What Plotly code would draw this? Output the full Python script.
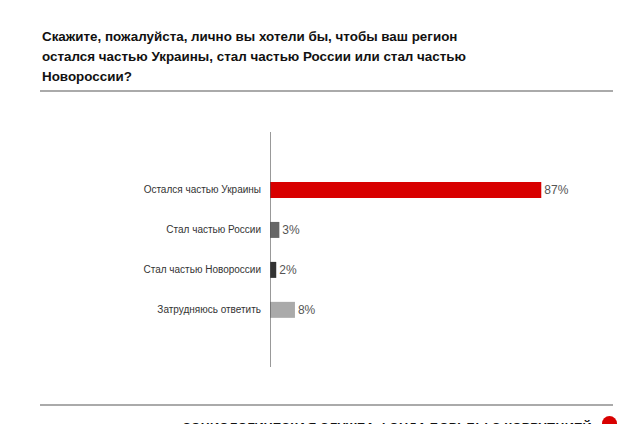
import plotly.graph_objects as go

categories = ["Остался частью Украины", "Стал частью России", "Стал частью Новороссии", "Затрудняюсь ответить"]
values = [87, 3, 2, 8]
labels = ["87%", "3%", "2%", "8%"]
colors = ["#d80000", "#666666", "#333333", "#aaaaaa"]

title_lines = ["Скажите, пожалуйста, лично вы хотели бы, чтобы ваш регион",
               "остался частью Украины, стал частью России или стал частью",
               "Новороссии?"]
footer_text = "СОЦИОЛОГИЧЕСКАЯ СЛУЖБА ФОНДА БОРЬБЫ С КОРРУПЦИЕЙ"

W, H = 636, 424
L, R, T, B = 270, 613, 132, 367

def px(x):
    return (x - L) / (R - L)

def py(y):
    return (B - y) / (B - T)

fig = go.Figure(go.Bar(
    x=values, y=categories, orientation="h",
    marker=dict(color=colors, line=dict(width=0)),
    text=labels, textposition="outside", cliponaxis=False,
    textfont=dict(family="Liberation Sans, Arial, sans-serif", size=12, color="#555555"),
    width=0.4, hoverinfo="skip",
))

title_annotations = [
    dict(text=line, xref="paper", yref="paper", x=px(40), y=py(36 + 20 * i),
         xanchor="left", yanchor="middle", align="left", showarrow=False,
         font=dict(family="Liberation Sans, Arial, sans-serif", size=13.4, color="#111111", weight="bold"))
    for i, line in enumerate(title_lines)
]

fig.update_layout(
    width=W, height=H,
    margin=dict(l=L, r=W - R, t=T, b=H - B),
    paper_bgcolor="white", plot_bgcolor="white",
    showlegend=False,
    xaxis=dict(range=[0, 110], visible=False, fixedrange=True),
    yaxis=dict(categoryorder="array", categoryarray=categories,
               range=[4.43, -1.45], showgrid=False, zeroline=False,
               showline=False, ticks="", ticklabelstandoff=8, fixedrange=True,
               tickfont=dict(family="Liberation Sans, Arial, sans-serif", size=10, color="#333333")),
    shapes=[
        dict(type="line", xref="x", yref="paper", x0=0, x1=0, y0=0, y1=1,
             line=dict(color="#555555", width=1.2)),
        dict(type="line", xref="paper", yref="paper", x0=px(40), x1=px(613), y0=py(91), y1=py(91),
             line=dict(color="#aaaaaa", width=2)),
        dict(type="line", xref="paper", yref="paper", x0=px(40), x1=px(613), y0=py(405), y1=py(405),
             line=dict(color="#aaaaaa", width=2)),
        dict(type="circle", xref="paper", yref="paper", x0=px(602), x1=px(617), y0=py(416), y1=py(431),
             fillcolor="#d80000", line=dict(width=0)),
    ],
    annotations=title_annotations + [
        dict(text=footer_text, xref="paper", yref="paper", x=px(594), y=py(418),
             xanchor="right", yanchor="top", showarrow=False,
             font=dict(family="Liberation Sans, Arial, sans-serif", size=12.7, color="#111111", weight="bold")),
    ],
)

fig.write_html("out.html", config={"displayModeBar": False},
               post_script="document.body.style.margin='0';document.body.style.overflow='hidden';")
